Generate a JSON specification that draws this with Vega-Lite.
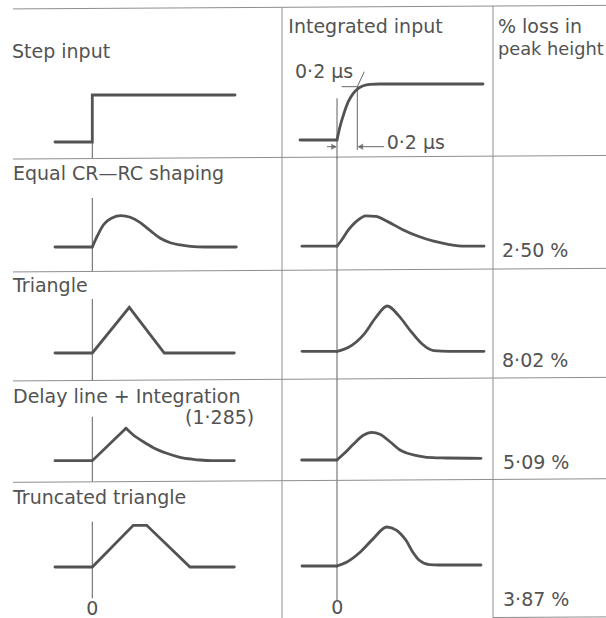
{
  "$schema": "https://vega.github.io/schema/vega-lite/v6.json",
  "description": "Output pulse shapes of four shaping networks for a step input and for an integrated (0.2 us rise) input, with the loss in peak height.",
  "background": "white",
  "padding": 0,
  "spacing": 0,
  "bounds": "flush",
  "columns": 3,
  "data": {"values": [{}]},
  "datasets": {
    "traces": [
      {"pulse": "step", "input": "direct", "part": "straight", "i": 0, "t": -0.373, "v": 0},
      {"pulse": "step", "input": "direct", "part": "straight", "i": 1, "t": 0, "v": 0},
      {"pulse": "step", "input": "direct", "part": "straight", "i": 2, "t": 0, "v": 1},
      {"pulse": "step", "input": "direct", "part": "straight", "i": 3, "t": 1.427, "v": 1},

      {"pulse": "step", "input": "integrated", "part": "straight", "t": -0.37, "v": 0.043},
      {"pulse": "step", "input": "integrated", "part": "straight", "t": 0, "v": 0.043},
      {"pulse": "step", "input": "integrated", "part": "curved", "t": 0, "v": 0.043},
      {"pulse": "step", "input": "integrated", "part": "curved", "t": 0.03, "v": 0.326},
      {"pulse": "step", "input": "integrated", "part": "curved", "t": 0.07, "v": 0.611},
      {"pulse": "step", "input": "integrated", "part": "curved", "t": 0.113, "v": 0.858},
      {"pulse": "step", "input": "integrated", "part": "curved", "t": 0.163, "v": 1.036},
      {"pulse": "step", "input": "integrated", "part": "curved", "t": 0.213, "v": 1.142},
      {"pulse": "step", "input": "integrated", "part": "curved", "t": 0.263, "v": 1.198},
      {"pulse": "step", "input": "integrated", "part": "curved", "t": 0.33, "v": 1.228},
      {"pulse": "step", "input": "integrated", "part": "curved", "t": 0.43, "v": 1.234},
      {"pulse": "step", "input": "integrated", "part": "curved", "t": 1.46, "v": 1.234},

      {"pulse": "crrc", "input": "direct", "part": "straight", "t": -0.373, "v": 0},
      {"pulse": "crrc", "input": "direct", "part": "straight", "t": 0, "v": 0},
      {"pulse": "crrc", "input": "direct", "part": "curved", "t": 0, "v": 0},
      {"pulse": "crrc", "input": "direct", "part": "curved", "t": 0.047, "v": 0.219},
      {"pulse": "crrc", "input": "direct", "part": "curved", "t": 0.11, "v": 0.468},
      {"pulse": "crrc", "input": "direct", "part": "curved", "t": 0.197, "v": 0.617},
      {"pulse": "crrc", "input": "direct", "part": "curved", "t": 0.287, "v": 0.666},
      {"pulse": "crrc", "input": "direct", "part": "curved", "t": 0.38, "v": 0.632},
      {"pulse": "crrc", "input": "direct", "part": "curved", "t": 0.48, "v": 0.517},
      {"pulse": "crrc", "input": "direct", "part": "curved", "t": 0.58, "v": 0.347},
      {"pulse": "crrc", "input": "direct", "part": "curved", "t": 0.68, "v": 0.185},
      {"pulse": "crrc", "input": "direct", "part": "curved", "t": 0.78, "v": 0.091},
      {"pulse": "crrc", "input": "direct", "part": "curved", "t": 0.88, "v": 0.043},
      {"pulse": "crrc", "input": "direct", "part": "curved", "t": 0.98, "v": 0.015},
      {"pulse": "crrc", "input": "direct", "part": "curved", "t": 1.13, "v": 0},
      {"pulse": "crrc", "input": "direct", "part": "curved", "t": 1.44, "v": 0},

      {"pulse": "crrc", "input": "integrated", "part": "straight", "t": -0.35, "v": 0.017},
      {"pulse": "crrc", "input": "integrated", "part": "straight", "t": 0, "v": 0.017},
      {"pulse": "crrc", "input": "integrated", "part": "curved", "t": 0, "v": 0.017},
      {"pulse": "crrc", "input": "integrated", "part": "curved", "t": 0.038, "v": 0.123},
      {"pulse": "crrc", "input": "integrated", "part": "curved", "t": 0.116, "v": 0.368},
      {"pulse": "crrc", "input": "integrated", "part": "curved", "t": 0.193, "v": 0.545},
      {"pulse": "crrc", "input": "integrated", "part": "curved", "t": 0.29, "v": 0.664},
      {"pulse": "crrc", "input": "integrated", "part": "curved", "t": 0.387, "v": 0.651},
      {"pulse": "crrc", "input": "integrated", "part": "curved", "t": 0.503, "v": 0.545},
      {"pulse": "crrc", "input": "integrated", "part": "curved", "t": 0.658, "v": 0.368},
      {"pulse": "crrc", "input": "integrated", "part": "curved", "t": 0.812, "v": 0.228},
      {"pulse": "crrc", "input": "integrated", "part": "curved", "t": 0.967, "v": 0.123},
      {"pulse": "crrc", "input": "integrated", "part": "curved", "t": 1.122, "v": 0.053},
      {"pulse": "crrc", "input": "integrated", "part": "curved", "t": 1.277, "v": 0.017},
      {"pulse": "crrc", "input": "integrated", "part": "curved", "t": 1.47, "v": 0.017},

      {"pulse": "triangle", "input": "direct", "part": "straight", "t": -0.373, "v": 0},
      {"pulse": "triangle", "input": "direct", "part": "straight", "t": 0, "v": 0},
      {"pulse": "triangle", "input": "direct", "part": "straight", "t": 0.37, "v": 0.972},
      {"pulse": "triangle", "input": "direct", "part": "straight", "t": 0.72, "v": 0},
      {"pulse": "triangle", "input": "direct", "part": "straight", "t": 1.42, "v": 0},

      {"pulse": "triangle", "input": "integrated", "part": "straight", "t": -0.349, "v": 0.036},
      {"pulse": "triangle", "input": "integrated", "part": "straight", "t": 0, "v": 0.036},
      {"pulse": "triangle", "input": "integrated", "part": "curved", "t": 0, "v": 0.036},
      {"pulse": "triangle", "input": "integrated", "part": "curved", "t": 0.116, "v": 0.121},
      {"pulse": "triangle", "input": "integrated", "part": "curved", "t": 0.271, "v": 0.402},
      {"pulse": "triangle", "input": "integrated", "part": "curved", "t": 0.387, "v": 0.753},
      {"pulse": "triangle", "input": "integrated", "part": "curved", "t": 0.503, "v": 1.0},
      {"pulse": "triangle", "input": "integrated", "part": "curved", "t": 0.619, "v": 0.789},
      {"pulse": "triangle", "input": "integrated", "part": "curved", "t": 0.735, "v": 0.472},
      {"pulse": "triangle", "input": "integrated", "part": "curved", "t": 0.851, "v": 0.191},
      {"pulse": "triangle", "input": "integrated", "part": "curved", "t": 0.967, "v": 0.05},
      {"pulse": "triangle", "input": "integrated", "part": "curved", "t": 1.122, "v": 0.036},
      {"pulse": "triangle", "input": "integrated", "part": "curved", "t": 1.47, "v": 0.036},

      {"pulse": "delay", "input": "direct", "part": "straight", "t": -0.373, "v": 0.006},
      {"pulse": "delay", "input": "direct", "part": "straight", "t": 0, "v": 0.006},
      {"pulse": "delay", "input": "direct", "part": "straight", "t": 0.337, "v": 0.696},
      {"pulse": "delay", "input": "direct", "part": "curved", "t": 0.337, "v": 0.696},
      {"pulse": "delay", "input": "direct", "part": "curved", "t": 0.41, "v": 0.553},
      {"pulse": "delay", "input": "direct", "part": "curved", "t": 0.51, "v": 0.41},
      {"pulse": "delay", "input": "direct", "part": "curved", "t": 0.61, "v": 0.283},
      {"pulse": "delay", "input": "direct", "part": "curved", "t": 0.744, "v": 0.164},
      {"pulse": "delay", "input": "direct", "part": "curved", "t": 0.877, "v": 0.079},
      {"pulse": "delay", "input": "direct", "part": "curved", "t": 1.01, "v": 0.036},
      {"pulse": "delay", "input": "direct", "part": "curved", "t": 1.077, "v": 0.021},
      {"pulse": "delay", "input": "direct", "part": "curved", "t": 1.2, "v": 0.008},
      {"pulse": "delay", "input": "direct", "part": "curved", "t": 1.42, "v": 0.006},

      {"pulse": "delay", "input": "integrated", "part": "straight", "t": -0.353, "v": 0.021},
      {"pulse": "delay", "input": "integrated", "part": "straight", "t": 0, "v": 0.021},
      {"pulse": "delay", "input": "integrated", "part": "curved", "t": 0, "v": 0.021},
      {"pulse": "delay", "input": "integrated", "part": "curved", "t": 0.063, "v": 0.142},
      {"pulse": "delay", "input": "integrated", "part": "curved", "t": 0.163, "v": 0.355},
      {"pulse": "delay", "input": "integrated", "part": "curved", "t": 0.263, "v": 0.547},
      {"pulse": "delay", "input": "integrated", "part": "curved", "t": 0.347, "v": 0.61},
      {"pulse": "delay", "input": "integrated", "part": "curved", "t": 0.43, "v": 0.568},
      {"pulse": "delay", "input": "integrated", "part": "curved", "t": 0.53, "v": 0.41},
      {"pulse": "delay", "input": "integrated", "part": "curved", "t": 0.63, "v": 0.234},
      {"pulse": "delay", "input": "integrated", "part": "curved", "t": 0.69, "v": 0.176},
      {"pulse": "delay", "input": "integrated", "part": "curved", "t": 0.823, "v": 0.106},
      {"pulse": "delay", "input": "integrated", "part": "curved", "t": 0.957, "v": 0.07},
      {"pulse": "delay", "input": "integrated", "part": "curved", "t": 1.09, "v": 0.064},
      {"pulse": "delay", "input": "integrated", "part": "curved", "t": 1.44, "v": 0.057},

      {"pulse": "truncated", "input": "direct", "part": "straight", "t": -0.373, "v": 0},
      {"pulse": "truncated", "input": "direct", "part": "straight", "t": 0, "v": 0},
      {"pulse": "truncated", "input": "direct", "part": "straight", "t": 0.41, "v": 0.887},
      {"pulse": "truncated", "input": "direct", "part": "straight", "t": 0.544, "v": 0.887},
      {"pulse": "truncated", "input": "direct", "part": "straight", "t": 0.977, "v": 0},
      {"pulse": "truncated", "input": "direct", "part": "straight", "t": 1.42, "v": 0},

      {"pulse": "truncated", "input": "integrated", "part": "straight", "t": -0.35, "v": 0.021},
      {"pulse": "truncated", "input": "integrated", "part": "straight", "t": 0, "v": 0.021},
      {"pulse": "truncated", "input": "integrated", "part": "curved", "t": 0, "v": 0.021},
      {"pulse": "truncated", "input": "integrated", "part": "curved", "t": 0.1, "v": 0.106},
      {"pulse": "truncated", "input": "integrated", "part": "curved", "t": 0.233, "v": 0.319},
      {"pulse": "truncated", "input": "integrated", "part": "curved", "t": 0.363, "v": 0.604},
      {"pulse": "truncated", "input": "integrated", "part": "curved", "t": 0.497, "v": 0.851},
      {"pulse": "truncated", "input": "integrated", "part": "curved", "t": 0.597, "v": 0.78},
      {"pulse": "truncated", "input": "integrated", "part": "curved", "t": 0.64, "v": 0.696},
      {"pulse": "truncated", "input": "integrated", "part": "curved", "t": 0.69, "v": 0.568},
      {"pulse": "truncated", "input": "integrated", "part": "curved", "t": 0.757, "v": 0.319},
      {"pulse": "truncated", "input": "integrated", "part": "curved", "t": 0.823, "v": 0.143},
      {"pulse": "truncated", "input": "integrated", "part": "curved", "t": 0.923, "v": 0.051},
      {"pulse": "truncated", "input": "integrated", "part": "curved", "t": 1.023, "v": 0.043},
      {"pulse": "truncated", "input": "integrated", "part": "curved", "t": 1.44, "v": 0.043}
    ]
  },
  "config": {
    "view": {"stroke": null},
    "axis": {"disable": true},
    "line": {"stroke": "#535353", "strokeWidth": 2.8, "strokeCap": "round", "strokeJoin": "round"},
    "rule": {"stroke": "#8e8e8e", "strokeWidth": 1},
    "point": {"filled": true, "color": "#555555", "size": 42},
    "text": {"font": "DejaVu Sans", "fontSize": 19, "fill": "#535353", "align": "left", "baseline": "alphabetic"}
  },
  "resolve": {"scale": {"x": "independent", "y": "independent"}},
  "concat": [
    {
      "width": 282, "height": 157,
      "layer": [
        {"mark": "rule", "encoding": {
          "x": {"datum": -0.793, "type": "quantitative", "scale": {"domain": [-0.923, 1.897], "nice": false, "zero": false}},
          "x2": {"datum": 1.897},
          "y": {"datum": 2.8315, "type": "quantitative", "scale": {"domain": [-0.3191, 3.0213], "nice": false, "zero": false}},
          "y2": {"datum": 2.8657}}},
        {"mark": {"type": "rule", "stroke": "#5e5e5e"}, "encoding": {"x": {"datum": 0}, "y": {"datum": 1}, "y2": {"datum": -0.351}}},
        {"data": {"name": "traces"}, "transform": [{"filter": "datum.pulse === 'step' && datum.input === 'direct'"}],
         "mark": {"type": "line", "interpolate": "linear", "strokeJoin": "miter"},
         "encoding": {"x": {"field": "t", "type": "quantitative"}, "y": {"field": "v", "type": "quantitative"}, "order": {"field": "i"}}},
        {"mark": "text", "encoding": {"x": {"datum": -0.803}, "y": {"datum": 1.787}, "text": {"value": "Step input"}}}
      ]
    },
    {
      "width": 211, "height": 157,
      "layer": [
        {"mark": "rule", "encoding": {
          "x": {"datum": -0.55, "type": "quantitative", "scale": {"domain": [-0.55, 1.56], "nice": false, "zero": false}},
          "x2": {"datum": 1.56},
          "y": {"datum": 2.8657, "type": "quantitative", "scale": {"domain": [-0.3191, 3.0213], "nice": false, "zero": false}},
          "y2": {"datum": 2.8928}}},
        {"mark": "rule", "encoding": {"x": {"datum": -0.55}, "y": {"datum": 2.8657}, "y2": {"datum": -0.3191}}},
        {"mark": {"type": "rule", "stroke": "#5e5e5e"}, "encoding": {"x": {"datum": 0}, "y": {"datum": 0.93}, "y2": {"datum": -0.34}}},
        {"mark": {"type": "rule", "stroke": "#666666"}, "encoding": {"x": {"datum": 0.047}, "x2": {"datum": 0.213}, "y": {"datum": 1.177}}},
        {"mark": {"type": "rule", "stroke": "#666666"}, "encoding": {"x": {"datum": 0.203}, "y": {"datum": 1.177}, "y2": {"datum": -0.17}}},
        {"mark": {"type": "rule", "stroke": "#666666"}, "encoding": {"x": {"datum": 0.203}, "x2": {"datum": 0.273}, "y": {"datum": 1.177}, "y2": {"datum": 1.496}}},
        {"mark": {"type": "rule", "stroke": "#666666"}, "encoding": {"x": {"datum": -0.1}, "x2": {"datum": -0.01}, "y": {"datum": -0.1}}},
        {"mark": {"type": "rule", "stroke": "#666666"}, "encoding": {"x": {"datum": 0.22}, "x2": {"datum": 0.47}, "y": {"datum": -0.1}}},
        {"mark": {"type": "point", "shape": "triangle-right"}, "encoding": {"x": {"datum": -0.03}, "y": {"datum": -0.1}}},
        {"mark": {"type": "point", "shape": "triangle-left"}, "encoding": {"x": {"datum": 0.233}, "y": {"datum": -0.1}}},
        {"data": {"name": "traces"}, "transform": [{"filter": "datum.pulse === 'step' && datum.input === 'integrated' && datum.part === 'straight'"}],
         "mark": {"type": "line", "interpolate": "linear"},
         "encoding": {"x": {"field": "t", "type": "quantitative"}, "y": {"field": "v", "type": "quantitative"}}},
        {"data": {"name": "traces"}, "transform": [{"filter": "datum.pulse === 'step' && datum.input === 'integrated' && datum.part === 'curved'"}],
         "mark": {"type": "line", "interpolate": "monotone"},
         "encoding": {"x": {"field": "t", "type": "quantitative"}, "y": {"field": "v", "type": "quantitative"}}},
        {"mark": "text", "encoding": {"x": {"datum": -0.487}, "y": {"datum": 2.313}, "text": {"value": "Integrated input"}}},
        {"mark": "text", "encoding": {"x": {"datum": -0.42}, "y": {"datum": 1.355}, "text": {"value": "0·2 μs"}}},
        {"mark": "text", "encoding": {"x": {"datum": 0.497}, "y": {"datum": -0.155}, "text": {"value": "0·2 μs"}}}
      ]
    },
    {
      "width": 113, "height": 157,
      "layer": [
        {"mark": "rule", "encoding": {
          "x": {"datum": 0, "type": "quantitative", "scale": {"domain": [0, 1.13], "nice": false, "zero": false}},
          "x2": {"datum": 1.13},
          "y": {"datum": 2.8928, "type": "quantitative", "scale": {"domain": [-0.3191, 3.0213], "nice": false, "zero": false}},
          "y2": {"datum": 2.9072}}},
        {"mark": "rule", "encoding": {"x": {"datum": 0}, "y": {"datum": 2.8928}, "y2": {"datum": -0.3191}}},
        {"mark": "text", "encoding": {"x": {"datum": 0.05}, "y": {"datum": 2.313}, "text": {"value": "% loss in"}}},
        {"mark": {"type": "text", "fontSize": 17.8}, "encoding": {"x": {"datum": 0.05}, "y": {"datum": 1.851}, "text": {"value": "peak height"}}}
      ]
    },
    {
      "width": 282, "height": 113,
      "layer": [
        {"mark": "rule", "encoding": {
          "x": {"datum": -0.793, "type": "quantitative", "scale": {"domain": [-0.923, 1.897], "nice": false, "zero": false}},
          "x2": {"datum": 1.897},
          "y": {"datum": 1.8719, "type": "quantitative", "scale": {"domain": [-0.4894, 1.9149], "nice": false, "zero": false}},
          "y2": {"datum": 1.9062}}},
        {"mark": {"type": "rule", "stroke": "#5e5e5e"}, "encoding": {"x": {"datum": 0}, "y": {"datum": 1.0426}, "y2": {"datum": -0.523}}},
        {"data": {"name": "traces"}, "transform": [{"filter": "datum.pulse === 'crrc' && datum.input === 'direct' && datum.part === 'straight'"}],
         "mark": {"type": "line", "interpolate": "linear"},
         "encoding": {"x": {"field": "t", "type": "quantitative"}, "y": {"field": "v", "type": "quantitative"}}},
        {"data": {"name": "traces"}, "transform": [{"filter": "datum.pulse === 'crrc' && datum.input === 'direct' && datum.part === 'curved'"}],
         "mark": {"type": "line", "interpolate": "monotone"},
         "encoding": {"x": {"field": "t", "type": "quantitative"}, "y": {"field": "v", "type": "quantitative"}}},
        {"mark": "text", "encoding": {"x": {"datum": -0.793}, "y": {"datum": 1.4255}, "text": {"value": "Equal CR—RC shaping"}}}
      ]
    },
    {
      "width": 211, "height": 113,
      "layer": [
        {"mark": "rule", "encoding": {
          "x": {"datum": -0.55, "type": "quantitative", "scale": {"domain": [-0.55, 1.56], "nice": false, "zero": false}},
          "x2": {"datum": 1.56},
          "y": {"datum": 1.9062, "type": "quantitative", "scale": {"domain": [-0.4894, 1.9149], "nice": false, "zero": false}},
          "y2": {"datum": 1.9332}}},
        {"mark": "rule", "encoding": {"x": {"datum": -0.55}, "y": {"datum": 1.9149}, "y2": {"datum": -0.4894}}},
        {"mark": {"type": "rule", "stroke": "#5e5e5e"}, "encoding": {"x": {"datum": 0}, "y": {"datum": 1.9149}, "y2": {"datum": -0.4894}}},
        {"data": {"name": "traces"}, "transform": [{"filter": "datum.pulse === 'crrc' && datum.input === 'integrated' && datum.part === 'straight'"}],
         "mark": {"type": "line", "interpolate": "linear"},
         "encoding": {"x": {"field": "t", "type": "quantitative"}, "y": {"field": "v", "type": "quantitative"}}},
        {"data": {"name": "traces"}, "transform": [{"filter": "datum.pulse === 'crrc' && datum.input === 'integrated' && datum.part === 'curved'"}],
         "mark": {"type": "line", "interpolate": "monotone"},
         "encoding": {"x": {"field": "t", "type": "quantitative"}, "y": {"field": "v", "type": "quantitative"}}}
      ]
    },
    {
      "width": 113, "height": 113,
      "layer": [
        {"mark": "rule", "encoding": {
          "x": {"datum": 0, "type": "quantitative", "scale": {"domain": [0, 1.13], "nice": false, "zero": false}},
          "x2": {"datum": 1.13},
          "y": {"datum": 1.9332, "type": "quantitative", "scale": {"domain": [-0.4894, 1.9149], "nice": false, "zero": false}},
          "y2": {"datum": 1.9477}}},
        {"mark": "rule", "encoding": {"x": {"datum": 0}, "y": {"datum": 1.9149}, "y2": {"datum": -0.4894}}},
        {"mark": "text", "encoding": {"x": {"datum": 0.09}, "y": {"datum": -0.2128}, "text": {"value": "2·50 %"}}}
      ]
    },
    {
      "width": 282, "height": 109,
      "layer": [
        {"mark": "rule", "encoding": {
          "x": {"datum": -0.793, "type": "quantitative", "scale": {"domain": [-0.923, 1.897], "nice": false, "zero": false}},
          "x2": {"datum": 1.897},
          "y": {"datum": 1.7251, "type": "quantitative", "scale": {"domain": [-0.5532, 1.766], "nice": false, "zero": false}},
          "y2": {"datum": 1.7594}}},
        {"mark": {"type": "rule", "stroke": "#5e5e5e"}, "encoding": {"x": {"datum": 0}, "y": {"datum": 1.149}, "y2": {"datum": -0.583}}},
        {"data": {"name": "traces"}, "transform": [{"filter": "datum.pulse === 'triangle' && datum.input === 'direct'"}],
         "mark": {"type": "line", "interpolate": "linear", "strokeJoin": "miter"},
         "encoding": {"x": {"field": "t", "type": "quantitative"}, "y": {"field": "v", "type": "quantitative"}}},
        {"mark": "text", "encoding": {"x": {"datum": -0.793}, "y": {"datum": 1.2979}, "text": {"value": "Triangle"}}}
      ]
    },
    {
      "width": 211, "height": 109,
      "layer": [
        {"mark": "rule", "encoding": {
          "x": {"datum": -0.55, "type": "quantitative", "scale": {"domain": [-0.55, 1.56], "nice": false, "zero": false}},
          "x2": {"datum": 1.56},
          "y": {"datum": 1.7594, "type": "quantitative", "scale": {"domain": [-0.5532, 1.766], "nice": false, "zero": false}},
          "y2": {"datum": 1.7864}}},
        {"mark": "rule", "encoding": {"x": {"datum": -0.55}, "y": {"datum": 1.766}, "y2": {"datum": -0.5532}}},
        {"mark": {"type": "rule", "stroke": "#5e5e5e"}, "encoding": {"x": {"datum": 0}, "y": {"datum": 1.766}, "y2": {"datum": -0.5532}}},
        {"data": {"name": "traces"}, "transform": [{"filter": "datum.pulse === 'triangle' && datum.input === 'integrated' && datum.part === 'straight'"}],
         "mark": {"type": "line", "interpolate": "linear"},
         "encoding": {"x": {"field": "t", "type": "quantitative"}, "y": {"field": "v", "type": "quantitative"}}},
        {"data": {"name": "traces"}, "transform": [{"filter": "datum.pulse === 'triangle' && datum.input === 'integrated' && datum.part === 'curved'"}],
         "mark": {"type": "line", "interpolate": "monotone"},
         "encoding": {"x": {"field": "t", "type": "quantitative"}, "y": {"field": "v", "type": "quantitative"}}}
      ]
    },
    {
      "width": 113, "height": 109,
      "layer": [
        {"mark": "rule", "encoding": {
          "x": {"datum": 0, "type": "quantitative", "scale": {"domain": [0, 1.13], "nice": false, "zero": false}},
          "x2": {"datum": 1.13},
          "y": {"datum": 1.7864, "type": "quantitative", "scale": {"domain": [-0.5532, 1.766], "nice": false, "zero": false}},
          "y2": {"datum": 1.8009}}},
        {"mark": "rule", "encoding": {"x": {"datum": 0}, "y": {"datum": 1.766}, "y2": {"datum": -0.5532}}},
        {"mark": "text", "encoding": {"x": {"datum": 0.09}, "y": {"datum": -0.2979}, "text": {"value": "8·02 %"}}}
      ]
    },
    {
      "width": 282, "height": 102,
      "layer": [
        {"mark": "rule", "encoding": {
          "x": {"datum": -0.793, "type": "quantitative", "scale": {"domain": [-0.923, 1.897], "nice": false, "zero": false}},
          "x2": {"datum": 1.897},
          "y": {"datum": 1.7038, "type": "quantitative", "scale": {"domain": [-0.4255, 1.7447], "nice": false, "zero": false}},
          "y2": {"datum": 1.7381}}},
        {"mark": {"type": "rule", "stroke": "#5e5e5e"}, "encoding": {"x": {"datum": 0}, "y": {"datum": 0.943}, "y2": {"datum": -0.44}}},
        {"data": {"name": "traces"}, "transform": [{"filter": "datum.pulse === 'delay' && datum.input === 'direct' && datum.part === 'straight'"}],
         "mark": {"type": "line", "interpolate": "linear", "strokeJoin": "miter"},
         "encoding": {"x": {"field": "t", "type": "quantitative"}, "y": {"field": "v", "type": "quantitative"}}},
        {"data": {"name": "traces"}, "transform": [{"filter": "datum.pulse === 'delay' && datum.input === 'direct' && datum.part === 'curved'"}],
         "mark": {"type": "line", "interpolate": "monotone"},
         "encoding": {"x": {"field": "t", "type": "quantitative"}, "y": {"field": "v", "type": "quantitative"}}},
        {"mark": "text", "encoding": {"x": {"datum": -0.793}, "y": {"datum": 1.234}, "text": {"value": "Delay line + Integration"}}},
        {"mark": "text", "encoding": {"x": {"datum": 0.927}, "y": {"datum": 0.787}, "text": {"value": "(1·285)"}}}
      ]
    },
    {
      "width": 211, "height": 102,
      "layer": [
        {"mark": "rule", "encoding": {
          "x": {"datum": -0.55, "type": "quantitative", "scale": {"domain": [-0.55, 1.56], "nice": false, "zero": false}},
          "x2": {"datum": 1.56},
          "y": {"datum": 1.7381, "type": "quantitative", "scale": {"domain": [-0.4255, 1.7447], "nice": false, "zero": false}},
          "y2": {"datum": 1.7651}}},
        {"mark": "rule", "encoding": {"x": {"datum": -0.55}, "y": {"datum": 1.7447}, "y2": {"datum": -0.4255}}},
        {"mark": {"type": "rule", "stroke": "#5e5e5e"}, "encoding": {"x": {"datum": 0}, "y": {"datum": 1.7447}, "y2": {"datum": -0.4255}}},
        {"data": {"name": "traces"}, "transform": [{"filter": "datum.pulse === 'delay' && datum.input === 'integrated' && datum.part === 'straight'"}],
         "mark": {"type": "line", "interpolate": "linear"},
         "encoding": {"x": {"field": "t", "type": "quantitative"}, "y": {"field": "v", "type": "quantitative"}}},
        {"data": {"name": "traces"}, "transform": [{"filter": "datum.pulse === 'delay' && datum.input === 'integrated' && datum.part === 'curved'"}],
         "mark": {"type": "line", "interpolate": "monotone"},
         "encoding": {"x": {"field": "t", "type": "quantitative"}, "y": {"field": "v", "type": "quantitative"}}}
      ]
    },
    {
      "width": 113, "height": 102,
      "layer": [
        {"mark": "rule", "encoding": {
          "x": {"datum": 0, "type": "quantitative", "scale": {"domain": [0, 1.13], "nice": false, "zero": false}},
          "x2": {"datum": 1.13},
          "y": {"datum": 1.7651, "type": "quantitative", "scale": {"domain": [-0.4255, 1.7447], "nice": false, "zero": false}},
          "y2": {"datum": 1.7796}}},
        {"mark": "rule", "encoding": {"x": {"datum": 0}, "y": {"datum": 1.7447}, "y2": {"datum": -0.4255}}},
        {"mark": "text", "encoding": {"x": {"datum": 0.1}, "y": {"datum": -0.1702}, "text": {"value": "5·09 %"}}}
      ]
    },
    {
      "width": 282, "height": 137,
      "layer": [
        {"mark": "rule", "encoding": {
          "x": {"datum": -0.793, "type": "quantitative", "scale": {"domain": [-0.923, 1.897], "nice": false, "zero": false}},
          "x2": {"datum": 1.897},
          "y": {"datum": 1.8017, "type": "quantitative", "scale": {"domain": [-1.0851, 1.8298], "nice": false, "zero": false}},
          "y2": {"datum": 1.836}}},
        {"mark": {"type": "rule", "stroke": "#5e5e5e"}, "encoding": {"x": {"datum": 0}, "y": {"datum": 0.964}, "y2": {"datum": -0.666}}},
        {"data": {"name": "traces"}, "transform": [{"filter": "datum.pulse === 'truncated' && datum.input === 'direct'"}],
         "mark": {"type": "line", "interpolate": "linear", "strokeJoin": "miter"},
         "encoding": {"x": {"field": "t", "type": "quantitative"}, "y": {"field": "v", "type": "quantitative"}}},
        {"mark": "text", "encoding": {"x": {"datum": -0.793}, "y": {"datum": 1.3404}, "text": {"value": "Truncated triangle"}}},
        {"mark": {"type": "text", "align": "center"}, "encoding": {"x": {"datum": 0}, "y": {"datum": -1.025}, "text": {"value": "0"}}}
      ]
    },
    {
      "width": 211, "height": 137,
      "layer": [
        {"mark": "rule", "encoding": {
          "x": {"datum": -0.55, "type": "quantitative", "scale": {"domain": [-0.55, 1.56], "nice": false, "zero": false}},
          "x2": {"datum": 1.56},
          "y": {"datum": 1.836, "type": "quantitative", "scale": {"domain": [-1.0851, 1.8298], "nice": false, "zero": false}},
          "y2": {"datum": 1.863}}},
        {"mark": "rule", "encoding": {"x": {"datum": -0.55}, "y": {"datum": 1.8298}, "y2": {"datum": -1.0851}}},
        {"mark": {"type": "rule", "stroke": "#5e5e5e"}, "encoding": {"x": {"datum": 0}, "y": {"datum": 1.8298}, "y2": {"datum": -0.702}}},
        {"data": {"name": "traces"}, "transform": [{"filter": "datum.pulse === 'truncated' && datum.input === 'integrated' && datum.part === 'straight'"}],
         "mark": {"type": "line", "interpolate": "linear"},
         "encoding": {"x": {"field": "t", "type": "quantitative"}, "y": {"field": "v", "type": "quantitative"}}},
        {"data": {"name": "traces"}, "transform": [{"filter": "datum.pulse === 'truncated' && datum.input === 'integrated' && datum.part === 'curved'"}],
         "mark": {"type": "line", "interpolate": "monotone"},
         "encoding": {"x": {"field": "t", "type": "quantitative"}, "y": {"field": "v", "type": "quantitative"}}},
        {"mark": {"type": "text", "align": "center"}, "encoding": {"x": {"datum": 0.003}, "y": {"datum": -1.01}, "text": {"value": "0"}}}
      ]
    },
    {
      "width": 113, "height": 137,
      "layer": [
        {"mark": "rule", "encoding": {
          "x": {"datum": 0, "type": "quantitative", "scale": {"domain": [0, 1.13], "nice": false, "zero": false}},
          "x2": {"datum": 1.13},
          "y": {"datum": 1.863, "type": "quantitative", "scale": {"domain": [-1.0851, 1.8298], "nice": false, "zero": false}},
          "y2": {"datum": 1.8775}}},
        {"mark": "rule", "encoding": {"x": {"datum": 0}, "y": {"datum": 1.8298}, "y2": {"datum": -1.0851}}},
        {"mark": "rule", "encoding": {"x": {"datum": 0}, "x2": {"datum": 1.13}, "y": {"datum": -1.0745}, "y2": {"datum": -1.0617}}},
        {"mark": "text", "encoding": {"x": {"datum": 0.1}, "y": {"datum": -0.8298}, "text": {"value": "3·87 %"}}}
      ]
    }
  ]
}
